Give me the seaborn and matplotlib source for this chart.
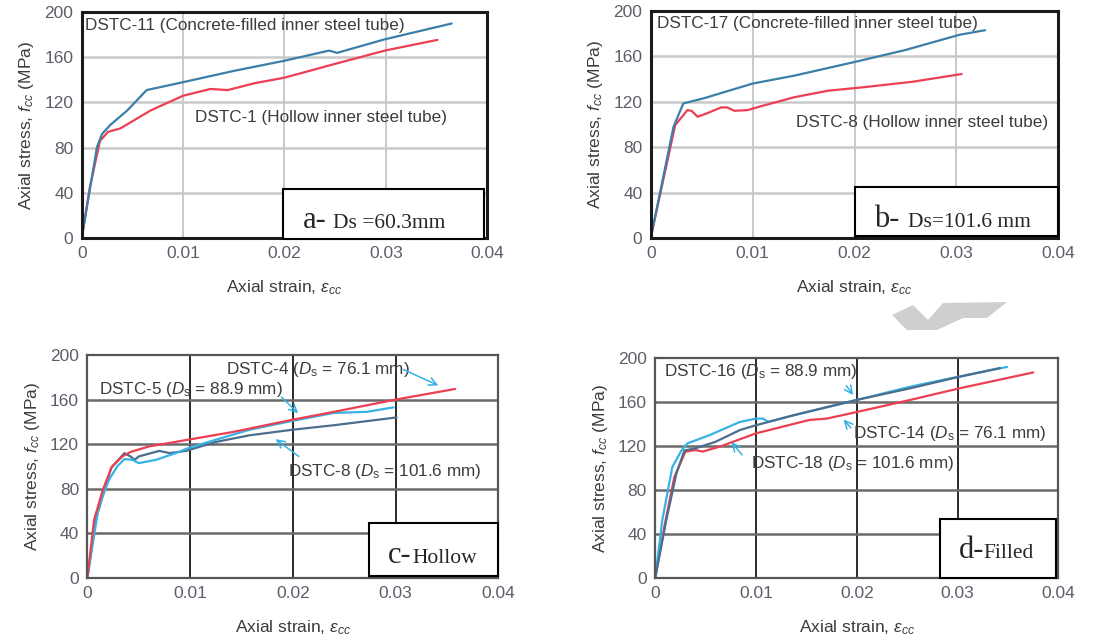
import pandas as pd
import matplotlib
matplotlib.use("Agg")
import matplotlib.pyplot as plt
from matplotlib.patches import Rectangle, Polygon
import seaborn as sns

# theme first, fonts after (set_theme resets font.family)
sns.set_theme(style="white", context="paper")
plt.rcParams["font.family"] = ["Liberation Sans", "DejaVu Sans"]
plt.rcParams["mathtext.fontset"] = "custom"
plt.rcParams["mathtext.rm"] = "Liberation Sans"
plt.rcParams["mathtext.it"] = "Liberation Sans:italic"

# ---- data ----
# (a) Ds = 60.3 mm
a_dstc11_strain = [0, 0.0015, 0.002, 0.0028, 0.0045, 0.0064, 0.01, 0.015, 0.02, 0.0244, 0.0252, 0.0299, 0.0365]
a_dstc11_stress = [0, 80.5, 92, 100, 113, 131, 138, 148, 157, 166, 164, 176, 190]
a_dstc1_strain = [0, 0.0008, 0.0018, 0.0026, 0.0038, 0.0068, 0.01, 0.0127, 0.0144, 0.017, 0.02, 0.0249, 0.0299, 0.0351]
a_dstc1_stress = [0, 45, 86, 94, 97, 113, 126, 132, 131, 137, 142, 154, 166, 175.5]

# (b) Ds = 101.6 mm
b_dstc17_strain = [0, 0.00224, 0.0032, 0.0052, 0.01, 0.0141, 0.02, 0.025, 0.0303, 0.0328]
b_dstc17_stress = [0, 98, 118.5, 123, 136, 143, 155, 165.6, 179, 183]
b_dstc8_strain = [0, 0.0024, 0.0036, 0.004, 0.0046, 0.0055, 0.0069, 0.0075, 0.0082, 0.0095, 0.0108,
                  0.0141, 0.0174, 0.0207, 0.0257, 0.0305]
b_dstc8_stress = [0, 99.4, 112.6, 112, 106.8, 109.7, 115, 115, 112, 112.6, 116,
                  124, 129.7, 132.6, 137.6, 144.4]

# (c) hollow inner tubes
c_dstc4_strain = [0, 0.00065, 0.0015, 0.0024, 0.0034, 0.0042, 0.006, 0.0098, 0.0142, 0.02, 0.024, 0.03, 0.0358]
c_dstc4_stress = [0, 52, 79, 100, 109, 113, 118, 124, 131, 142, 149, 160, 169.5]
c_dstc5_strain = [0, 0.0011, 0.0021, 0.0029, 0.0036, 0.0044, 0.005, 0.0067, 0.0086, 0.0098, 0.0125,
                  0.0158, 0.02, 0.024, 0.0272, 0.0298]
c_dstc5_stress = [0, 64, 88, 100, 106.6, 106, 103, 106, 112, 116.4, 124, 133, 141, 148, 149, 153]
c_dstc8_strain = [0, 0.0008, 0.0023, 0.0036, 0.0042, 0.0046, 0.005, 0.007, 0.008, 0.0096, 0.0125,
                  0.0158, 0.02, 0.024, 0.0301]
c_dstc8_stress = [0, 52, 98.5, 112, 109, 106, 109, 114, 112, 114, 122, 128, 133, 137, 144]

# (d) concrete-filled inner tubes
d_dstc14_strain = [0, 0.0009, 0.0019, 0.003, 0.004, 0.0047, 0.0064, 0.01, 0.0153, 0.017, 0.02, 0.0253, 0.0302, 0.0375]
d_dstc14_stress = [0, 46.5, 92, 115, 116.4, 115, 119.5, 131.6, 143.8, 145, 151, 162, 172.6, 187]
d_dstc18_strain = [0, 0.0011, 0.0021, 0.0029, 0.004, 0.006, 0.0084, 0.01, 0.0137, 0.02, 0.0253, 0.03, 0.0342]
d_dstc18_stress = [0, 52.6, 95, 116, 118, 124, 134.6, 139, 148, 162, 172.6, 182.7, 191]
d_dstc16_strain = [0, 0.0007, 0.0017, 0.0026, 0.0032, 0.0054, 0.0084, 0.01, 0.0107, 0.0112, 0.0137,
                   0.02, 0.0253, 0.03, 0.0349]
d_dstc16_stress = [0, 52.6, 101, 116, 122.5, 130, 142, 145, 145, 142, 148, 162, 174, 183, 192]

x_ticks = [0, 0.01, 0.02, 0.03, 0.04]
x_tick_labels = ["0", "0.01", "0.02", "0.03", "0.04"]
y_ticks = [0, 40, 80, 120, 160, 200]

BLUE = "#3b7fa8"
RED = "#ec3f52"
LIGHT = "#35b2e6"
DARK = "#4b6e8c"
TXT = "#3c3c3c"


def make_df(curves):
    frames = []
    for name, xs, ys in curves:
        frames.append(pd.DataFrame({"strain": xs, "stress": ys, "specimen": name}))
    return pd.concat(frames, ignore_index=True)


def style_axes(ax, grid_col_v, grid_col_h, spine_col, spine_w):
    ax.set_xlim(0, 0.04)
    ax.set_ylim(0, 200)
    ax.set_xticks(x_ticks)
    ax.set_xticklabels(x_tick_labels)
    ax.set_yticks(y_ticks)
    ax.tick_params(length=0, pad=6, labelsize=12.5, labelcolor="#5c5f6a")
    for x in x_ticks[1:-1]:
        ax.axvline(x, color=grid_col_v, lw=1.4, zorder=0)
    for y in y_ticks[1:-1]:
        ax.axhline(y, color=grid_col_h, lw=1.8, zorder=0)
    for s in ax.spines.values():
        s.set_color(spine_col)
        s.set_linewidth(spine_w)
    ax.set_xlabel(r"Axial strain, $\varepsilon_{cc}$", fontsize=12.5, color=TXT, labelpad=12)
    ax.set_ylabel(r"Axial stress, $f_{cc}$ (MPa)", fontsize=12.5, color=TXT, labelpad=6)
    if ax.get_legend() is not None:
        ax.get_legend().remove()


def label_box(ax, x0, y0, w, h, big, small, bx, sx, by):
    ax.add_patch(Rectangle((x0, y0), w, h, transform=ax.transAxes, facecolor="white",
                           edgecolor="black", lw=1.5, zorder=5, clip_on=False))
    ax.text(bx, by, big, transform=ax.transAxes, fontsize=22, family="Liberation Serif",
            va="baseline", zorder=6)
    ax.text(sx, by, small, transform=ax.transAxes, fontsize=15.5, family="Liberation Serif",
            va="baseline", zorder=6)


def arrow(ax, tail, tip):
    ax.annotate("", xy=tip, xytext=tail,
                arrowprops=dict(arrowstyle="->", color=LIGHT, lw=1.1, mutation_scale=14))


fig = plt.figure(figsize=(11.2, 6.43), dpi=100)
ax_a = fig.add_axes([0.073, 0.630, 0.362, 0.351])
ax_b = fig.add_axes([0.581, 0.630, 0.364, 0.353])
ax_c = fig.add_axes([0.078, 0.101, 0.367, 0.347])
ax_d = fig.add_axes([0.585, 0.101, 0.360, 0.342])

# (a)
df_a = make_df([("DSTC-1", a_dstc1_strain, a_dstc1_stress),
                ("DSTC-11", a_dstc11_strain, a_dstc11_stress)])
sns.lineplot(data=df_a, x="strain", y="stress", hue="specimen", sort=False, estimator=None,
             palette={"DSTC-1": RED, "DSTC-11": BLUE}, lw=1.6, ax=ax_a)
style_axes(ax_a, "#c9c9c9", "#c9c9c9", "#1a1a1a", 2.2)
ax_a.text(0.0003, 188, "DSTC-11 (Concrete-filled inner steel tube)", fontsize=12.3, color=TXT, va="center")
ax_a.text(0.0112, 107, "DSTC-1 (Hollow inner steel tube)", fontsize=12.3, color=TXT, va="center")
label_box(ax_a, 0.496, -0.005, 0.497, 0.222, "a-", "Ds =60.3mm", 0.546, 0.62, 0.045)

# (b)
df_b = make_df([("DSTC-8", b_dstc8_strain, b_dstc8_stress),
                ("DSTC-17", b_dstc17_strain, b_dstc17_stress)])
sns.lineplot(data=df_b, x="strain", y="stress", hue="specimen", sort=False, estimator=None,
             palette={"DSTC-8": RED, "DSTC-17": BLUE}, lw=1.6, ax=ax_b)
style_axes(ax_b, "#c9c9c9", "#c9c9c9", "#1a1a1a", 2.2)
ax_b.text(0.0006, 188.5, "DSTC-17 (Concrete-filled inner steel tube)", fontsize=12.3, color=TXT, va="center")
ax_b.text(0.0143, 102, "DSTC-8 (Hollow inner steel tube)", fontsize=12.3, color=TXT, va="center")
label_box(ax_b, 0.50, 0.01, 0.50, 0.215, "b-", "Ds=101.6 mm", 0.549, 0.63, 0.05)

# (c)
df_c = make_df([("DSTC-8", c_dstc8_strain, c_dstc8_stress),
                ("DSTC-5", c_dstc5_strain, c_dstc5_stress),
                ("DSTC-4", c_dstc4_strain, c_dstc4_stress)])
sns.lineplot(data=df_c, x="strain", y="stress", hue="specimen", sort=False, estimator=None,
             palette={"DSTC-8": DARK, "DSTC-5": LIGHT, "DSTC-4": RED}, lw=1.6, ax=ax_c)
style_axes(ax_c, "#2a2a2a", "#6a6a6a", "#555555", 1.6)
ax_c.text(0.0135, 186.5, r"DSTC-4 ($D_\mathrm{s}$ = 76.1 mm)", fontsize=12.3, color=TXT, va="center")
ax_c.text(0.0011, 168.6, r"DSTC-5 ($D_\mathrm{s}$ = 88.9 mm)", fontsize=12.3, color=TXT, va="center")
ax_c.text(0.0195, 95.5, r"DSTC-8 ($D_\mathrm{s}$ = 101.6 mm)", fontsize=12.3, color=TXT, va="center")
arrow(ax_c, (0.0305, 188), (0.0344, 171.6))
arrow(ax_c, (0.0187, 164), (0.0207, 146))
arrow(ax_c, (0.0208, 107.5), (0.0181, 126))
label_box(ax_c, 0.684, 0.01, 0.316, 0.237, "c-", "Hollow", 0.732, 0.791, 0.067)

# (d)
df_d = make_df([("DSTC-14", d_dstc14_strain, d_dstc14_stress),
                ("DSTC-16", d_dstc16_strain, d_dstc16_stress),
                ("DSTC-18", d_dstc18_strain, d_dstc18_stress)])
sns.lineplot(data=df_d, x="strain", y="stress", hue="specimen", sort=False, estimator=None,
             palette={"DSTC-14": RED, "DSTC-16": LIGHT, "DSTC-18": DARK}, lw=1.6, ax=ax_d)
style_axes(ax_d, "#2a2a2a", "#6a6a6a", "#555555", 1.6)
ax_d.text(0.0009, 188, r"DSTC-16 ($D_\mathrm{s}$ = 88.9 mm)", fontsize=12.3, color=TXT, va="center")
ax_d.text(0.0196, 131.6, r"DSTC-14 ($D_\mathrm{s}$ = 76.1 mm)", fontsize=12.3, color=TXT, va="center")
ax_d.text(0.0095, 104, r"DSTC-18 ($D_\mathrm{s}$ = 101.6 mm)", fontsize=12.3, color=TXT, va="center")
arrow(ax_d, (0.0188, 177), (0.0198, 164.4))
arrow(ax_d, (0.0196, 134.7), (0.0185, 146))
arrow(ax_d, (0.0088, 110), (0.0074, 125.5))
label_box(ax_d, 0.707, 0.0, 0.288, 0.268, "d-", "Filled", 0.754, 0.814, 0.09)

# faint watermark shape between the panels
fig.patches.append(Polygon([(892 / 1120, 1 - 315 / 643), (913 / 1120, 1 - 305 / 643), (928 / 1120, 1 - 320 / 643),
                            (943 / 1120, 1 - 303 / 643), (1007 / 1120, 1 - 302 / 643), (987 / 1120, 1 - 318 / 643),
                            (963 / 1120, 1 - 318 / 643), (937 / 1120, 1 - 330 / 643), (907 / 1120, 1 - 330 / 643)],
                           closed=True, transform=fig.transFigure, facecolor="#cfcfcf", edgecolor="none"))

fig.savefig("out.png", dpi=100)
